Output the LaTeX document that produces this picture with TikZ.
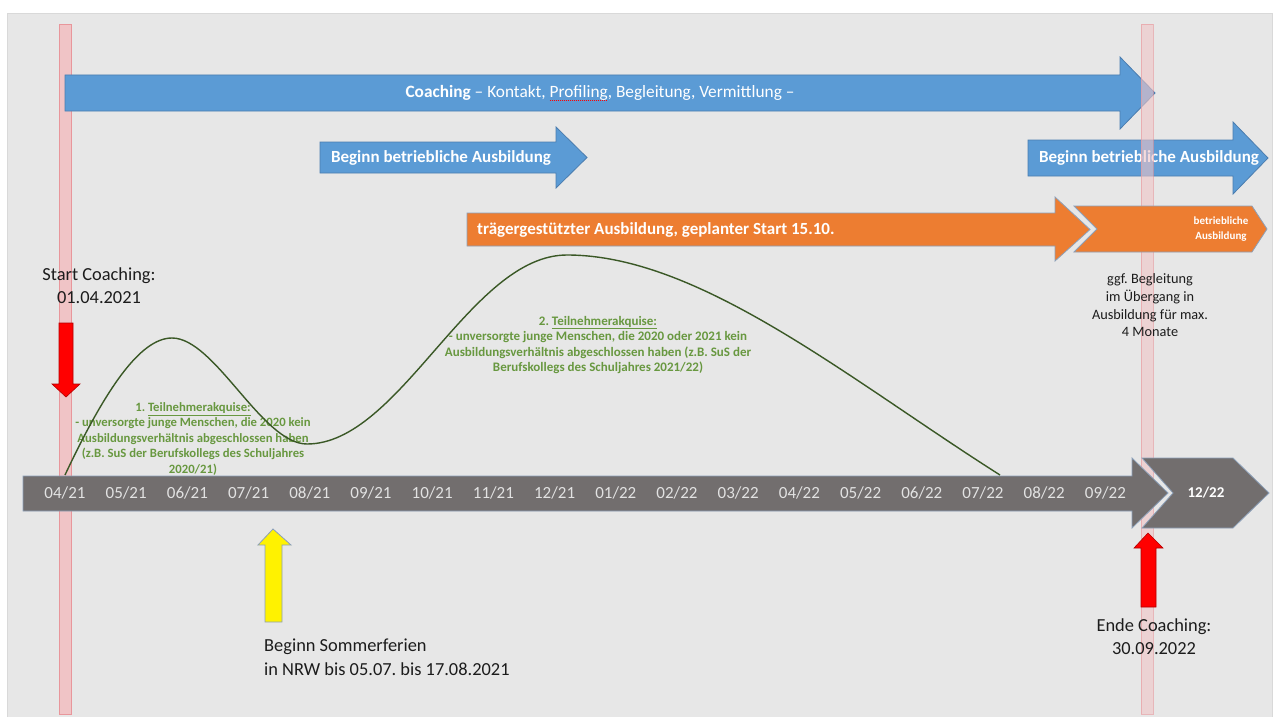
\documentclass[tikz,border=0pt]{standalone}
\usepackage{fontspec}
\setmainfont{Carlito}
\usetikzlibrary{positioning}
\definecolor{bggray}{RGB}{231,231,231}
\definecolor{coachblue}{RGB}{91,155,213}
\definecolor{blueline}{RGB}{75,125,175}
\definecolor{trainorange}{RGB}{237,125,49}
\definecolor{axisgray}{RGB}{114,110,110}
\definecolor{edgegray}{RGB}{140,160,185}
\definecolor{markpink}{RGB}{240,196,198}
\definecolor{markline}{RGB}{232,150,155}
\definecolor{leafgreen}{RGB}{104,152,64}
\definecolor{curvegreen}{RGB}{58,88,38}
\definecolor{textdark}{RGB}{28,28,28}
\definecolor{monthtext}{RGB}{226,226,226}
\frenchspacing
\newsavebox\wavebox
\newcommand\spellwave[1]{\sbox\wavebox{#1}%
  \rlap{\raisebox{-3.5pt}{\textcolor{red}{\hbox to \wd\wavebox{\xleaders\hbox{\rule{1.1pt}{0.7pt}\kern0.9pt}\hfil}}}}%
  \usebox\wavebox}

\begin{document}
\begin{tikzpicture}[x=1pt, y=-1pt,
  bluearrow/.style={fill=coachblue, draw=blueline, line width=0.8pt},
  orangearrow/.style={fill=trainorange, draw=edgegray, line width=0.8pt},
  grayarrow/.style={fill=axisgray, draw=edgegray, line width=0.8pt},
  pinkbar/.style={fill=markpink, draw=markline, line width=0.6pt},
  redarrow/.style={fill=red, draw=red!70!black, line width=0.6pt},
  yellowarrow/.style={fill=yellow, draw=edgegray, line width=0.8pt},
  barlabel/.style={text=white, font=\bfseries\fontsize{17}{20}\selectfont, inner sep=0pt},
  monthlabel/.style={text=monthtext, font=\fontsize{17}{20}\selectfont, inner sep=0pt},
  notelabel/.style={text=textdark, font=\fontsize{18.4}{23.5}\selectfont, align=center, inner sep=0pt},
  greenlabel/.style={text=leafgreen, font=\bfseries\fontsize{12.7}{15.5}\selectfont, align=center, inner sep=0pt}
]
  \useasboundingbox (0,0) rectangle (1274,717);
  % Background
  \fill[white] (0,0) rectangle (1274,717);
  \filldraw[fill=bggray, draw=black!15] (7,13) rectangle (1272,722);

  % Start marker bar
  \filldraw[pinkbar] (59,24) rectangle (71,714);

  % Coaching arrow
  \draw[bluearrow] (65,75) -- (1120,75) -- (1120,57) -- (1155,93) -- (1120,129) -- (1120,111) -- (65,111) -- cycle;
  \node[text=white, font=\fontsize{17.3}{20}\selectfont, inner sep=0pt] (coach) at (600,93)
    {\textbf{Coaching} – Kontakt, \spellwave{Profiling}, Begleitung, Vermittlung –};

  % Beginn betriebliche Ausbildung
  \draw[bluearrow] (320,142) -- (556,142) -- (556,127) -- (587,157.5) -- (556,188) -- (556,173) -- (320,173) -- cycle;
  \node[barlabel] (start1) at (441,157.5) {Beginn betriebliche Ausbildung};
  \draw[bluearrow] (1028,140) -- (1233,140) -- (1233,122) -- (1268,158) -- (1233,194) -- (1233,176) -- (1028,176) -- cycle;
  \node[barlabel] (start2) at (1149,158) {Beginn betriebliche Ausbildung};

  % End marker bar
  \filldraw[pinkbar, opacity=0.6] (1141,24) rectangle (1153,714);

  % Traegergestuetzte Ausbildung
  \draw[orangearrow] (467,213) -- (1055,213) -- (1055,197) -- (1090,229.5) -- (1055,261) -- (1055,246) -- (467,246) -- cycle;
  \node[barlabel, anchor=west] (bae) at (477,229.5) {trägergestützter Ausbildung, geplanter Start 15.10.};
  \draw[orangearrow] (1074,206) -- (1252,206) -- (1267,229) -- (1252,252) -- (1074,252) -- (1097,229) -- cycle;
  \node[text=white, font=\bfseries\fontsize{11}{15}\selectfont, align=center, inner sep=0pt] (betr) at (1221,229.5) {betriebliche\\Ausbildung};

  % Timeline
  \draw[grayarrow] (23,476) -- (1132,476) -- (1132,458) -- (1168,493) -- (1132,528) -- (1132,511) -- (23,511) -- cycle;
  \draw[grayarrow] (1142,458) -- (1233,458) -- (1269,493) -- (1233,528) -- (1142,528) -- (1173,493) -- cycle;
  \foreach \mm/\yy [count=\i] in {04/21, 05/21, 06/21, 07/21, 08/21, 09/21, 10/21, 11/21, 12/21,
      01/22, 02/22, 03/22, 04/22, 05/22, 06/22, 07/22, 08/22, 09/22}
    \node[monthlabel] (m\i) at ({65+61.2*(\i-1)},493) {\mm/\yy};
  \node[text=white, font=\bfseries\fontsize{15}{18}\selectfont, inner sep=0pt] (m19) at (1206,493) {12/22};

  % Marker arrows
  \draw[redarrow] (59,323) -- (73,323) -- (73,384) -- (80,384) -- (66,397) -- (52,384) -- (59,384) -- cycle;
  \draw[redarrow] (1141,607) -- (1156,607) -- (1156,548) -- (1163,548) -- (1148,533) -- (1134,548) -- (1141,548) -- cycle;
  \draw[yellowarrow] (265,622) -- (282,622) -- (282,545) -- (291,545) -- (273,529) -- (258,545) -- (265,545) -- cycle;

  % Labels
  \node[notelabel] (startc) at (99,285.5) {Start Coaching:\\01.04.2021};
  \node[notelabel] (endc) at (1154,636.5) {Ende Coaching:\\30.09.2022};
  \node[notelabel, align=left, anchor=west] (ferien) at (264,657) {Beginn Sommerferien\\in NRW bis 05.07. bis 17.08.2021};
  \node[text=textdark, font=\fontsize{14.3}{17.7}\selectfont, align=center, inner sep=0pt] (uebergang) at (1150,305.5)
    {ggf. Begleitung\\im Übergang in\\Ausbildung für max.\\4 Monate};

  % Teilnehmerakquise
  \node[greenlabel] (akq1) at (193,439) {1. \underline{Teilnehmerakquise:}\\- unversorgte junge Menschen, die 2020 kein\\Ausbildungsverhältnis abgeschlossen haben\\(z.B. SuS der Berufskollegs des Schuljahres\\2020/21)};
  \node[greenlabel, font=\bfseries\fontsize{13}{15.5}\selectfont] (akq2) at (598,345) {2. \underline{Teilnehmerakquise:}\\- unversorgte junge Menschen, die 2020 oder 2021 kein\\Ausbildungsverhältnis abgeschlossen haben (z.B. SuS der\\Berufskollegs des Schuljahres 2021/22)};

  % Curve
  \draw[curvegreen, line width=1.4pt] (65,475) .. controls (105,390) and (140,338) .. (172,338)
    .. controls (215,338) and (262,444) .. (307,444)
    .. controls (400,444) and (470,255) .. (567,255)
    .. controls (700,255) and (850,380) .. (1000,475);
\end{tikzpicture}
\end{document}
